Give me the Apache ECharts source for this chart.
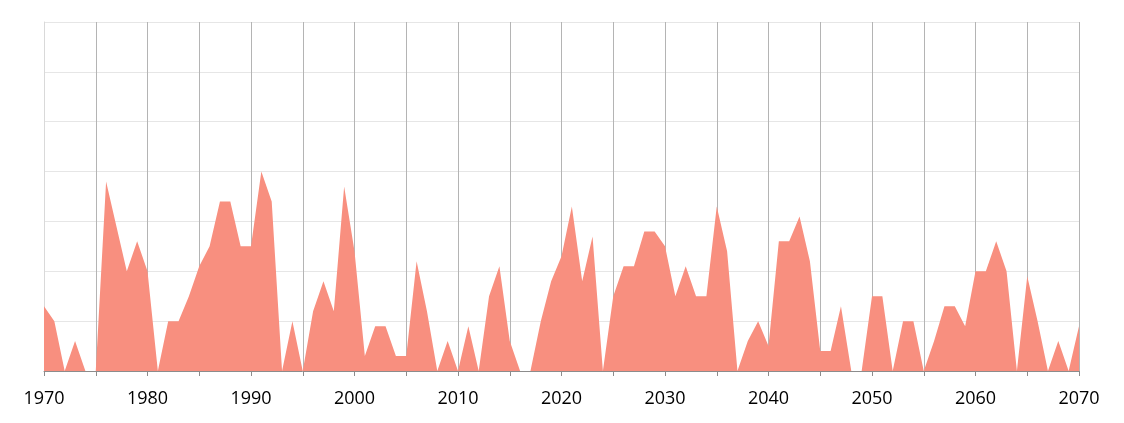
<!DOCTYPE html>
<html>
<head>
<meta charset="utf-8">
<script src="https://cdn.jsdelivr.net/npm/echarts@6/dist/echarts.min.js"></script>
<style>html,body{margin:0;padding:0;background:#fff}#c{width:1124px;height:423px}</style>
</head>
<body>
<div id="c"></div>
<script>
const years = [1970,1971,1972,1973,1974,1975,1976,1977,1978,1979,
1980,1981,1982,1983,1984,1985,1986,1987,1988,1989,
1990,1991,1992,1993,1994,1995,1996,1997,1998,1999,
2000,2001,2002,2003,2004,2005,2006,2007,2008,2009,
2010,2011,2012,2013,2014,2015,2016,2017,2018,2019,
2020,2021,2022,2023,2024,2025,2026,2027,2028,2029,
2030,2031,2032,2033,2034,2035,2036,2037,2038,2039,
2040,2041,2042,2043,2044,2045,2046,2047,2048,2049,
2050,2051,2052,2053,2054,2055,2056,2057,2058,2059,
2060,2061,2062,2063,2064,2065,2066,2067,2068,2069,2070];
const values = [13,10,0,6,0,0,38,29,20,26,
20,0,10,10,15,21,25,34,34,25,
25,40,34,0,10,0,12,18,12,37,
24,3,9,9,3,3,22,12,0,6,
0,9,0,15,21,6,0,0,10,18,
23,33,18,27,0,15,21,21,28,28,
25,15,21,15,15,33,24,0,6,10,
5,26,26,31,22,4,4,13,0,0,
15,15,0,10,10,0,6,13,13,9,
20,20,26,20,0,19,10,0,6,0,9];
const xLabels = [1970,1980,1990,2000,2010,2020,2030,2040,2050,2060,2070];

const chart = echarts.init(document.getElementById('c'), null, {renderer:'canvas'});
chart.setOption({
  animation: false,
  grid: {left: 44, right: 45, top: 22, bottom: 52, containLabel: false},
  xAxis: {
    type: 'value', min: 1970, max: 2070, interval: 5,
    axisLine: {show: true, lineStyle: {color: '#8c8c8c', width: 1}},
    axisTick: {show: true, length: 5, lineStyle: {color: '#8c8c8c'}},
    axisLabel: {
      margin: 19, color: '#000', fontSize: 18, fontFamily: 'Open Sans',
      formatter: function (v) { return xLabels.indexOf(v) >= 0 ? String(v) : ''; }
    },
    splitLine: {show: true, showMinLine: false, lineStyle: {color: '#b4b4b4', width: 1}}
  },
  yAxis: {
    type: 'value', min: 0, max: 70, interval: 10,
    axisLine: {show: true, lineStyle: {color: '#d9d9d9'}},
    axisTick: {show: false},
    axisLabel: {show: false},
    splitLine: {show: true, lineStyle: {color: '#e6e6e6', width: 1}}
  },
  series: [{
    type: 'line',
    data: years.map((y, i) => [y, values[i]]),
    symbol: 'none',
    lineStyle: {width: 0, opacity: 0},
    areaStyle: {color: '#f88f7f', opacity: 1},
    z: 1
  }]
});
</script>
</body>
</html>
